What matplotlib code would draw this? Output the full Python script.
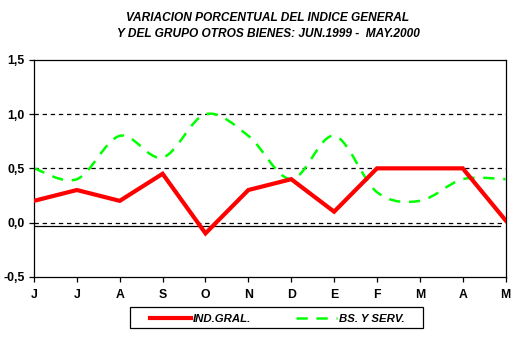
import matplotlib
matplotlib.use("Agg")
import matplotlib.pyplot as plt
from matplotlib.path import Path
from matplotlib.patches import PathPatch, Rectangle
from matplotlib.lines import Line2D
import numpy as np

months = ["J", "J", "A", "S", "O", "N", "D", "E", "F", "M", "A", "M"]
ind_gral = [0.2, 0.3, 0.2, 0.45, -0.1, 0.3, 0.4, 0.1, 0.5, 0.5, 0.5, 0.02]
bs_serv = [0.5, 0.4, 0.8, 0.6, 1.0, 0.8, 0.4, 0.8, 0.28, 0.2, 0.4, 0.4]
yticks = [-0.5, 0.0, 0.5, 1.0, 1.5]
ylabels = ["-0,5", "0,0", "0,5", "1,0", "1,5"]
title = "VARIACION PORCENTUAL DEL INDICE GENERAL\nY DEL GRUPO OTROS BIENES: JUN.1999 -  MAY.2000"

plt.rcParams['font.family'] = ['Liberation Sans', 'DejaVu Sans']

fig = plt.figure(figsize=(5.17, 3.51), dpi=100)
ax = fig.add_axes([34/517, 1-276.7/351, (505.6-34)/517, (276.7-60)/351])

x = np.arange(len(months))

# gridlines
for yv in [0.0, 0.5, 1.0]:
    ax.axhline(yv, color="black", lw=0.9, ls=(0, (3.5, 3)), zorder=1)
# baseline artifact
ax.plot([0, 10.88], [-0.03, -0.03], color="black", lw=0.9, zorder=1)

# red line
ax.plot(x, ind_gral, color="#ff0000", lw=3.0, solid_joinstyle="miter", zorder=3)

# smoothed green line (Bezier, Excel style)
pts = np.column_stack([x, bs_serv]).astype(float)
n = len(pts)
verts = [tuple(pts[0])]
codes = [Path.MOVETO]
for i in range(n - 1):
    p0 = pts[max(i - 1, 0)]
    p1 = pts[i]
    p2 = pts[i + 1]
    p3 = pts[min(i + 2, n - 1)]
    c1 = p1 + (p2 - p0) / 6.0
    c2 = p2 - (p3 - p1) / 6.0
    verts += [tuple(c1), tuple(c2), tuple(p2)]
    codes += [Path.CURVE4, Path.CURVE4, Path.CURVE4]
patch = PathPatch(Path(verts, codes), facecolor="none", edgecolor="#00ff00",
                  lw=1.8, linestyle=(0, (4.5, 3.5)), zorder=2)
ax.add_patch(patch)

ax.set_xlim(0, len(months) - 1)
ax.set_ylim(-0.5, 1.5)
ax.set_xticks(x)
ax.set_xticklabels(months, fontweight="bold", fontsize=8.8)
ax.set_yticks(yticks)
ax.set_yticklabels(ylabels, fontweight="bold", fontsize=8.8)
ax.tick_params(axis="both", direction="out", length=3.5, width=0.9, pad=5)
ax.tick_params(axis="y", pad=3)
for s in ax.spines.values():
    s.set_linewidth(0.9)

fig.text(268/517, 1-26/351, title, ha="center", va="center", fontsize=8.6,
         fontweight="bold", fontstyle="italic", linespacing=1.5)

# legend frame drawn manually
fig.add_artist(Rectangle((130/517, 1-328/351), (423-130)/517, (328-307)/351,
                         transform=fig.transFigure, facecolor="white",
                         edgecolor="black", lw=0.9))
handles = [Line2D([], [], color="#ff0000", lw=3.0),
           Line2D([], [], color="#00ff00", lw=1.8, ls=(0, (4.5, 3.5)))]
leg = fig.legend(handles, ["IND.GRAL.", "BS. Y SERV."], loc="center",
                 bbox_to_anchor=(277/517, 1-318.5/351), ncol=2, frameon=False,
                 handlelength=3.6, columnspacing=3.9, handletextpad=0.2,
                 prop=dict(weight="bold", style="italic", size=8.2))

fig.savefig("out.png", dpi=100)
